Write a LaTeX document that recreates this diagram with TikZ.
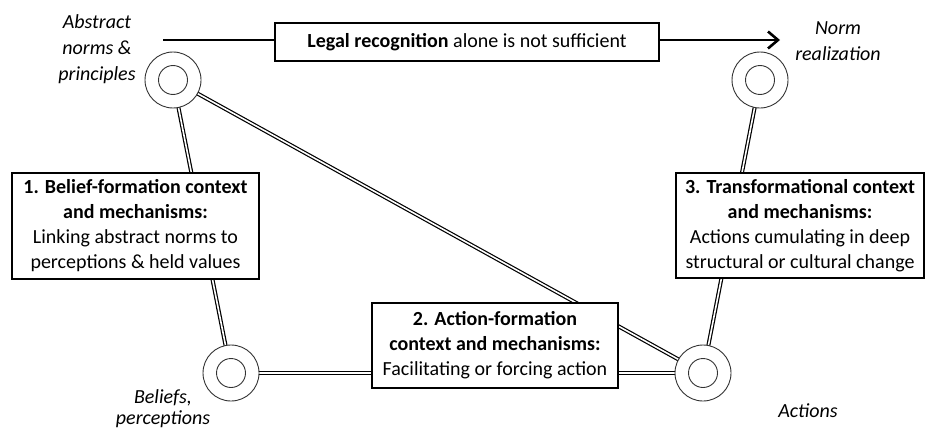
\documentclass[tikz,border=0pt]{standalone}
\usepackage{fontspec}
\setmainfont{Carlito}
\usetikzlibrary{arrows.meta,positioning}

\begin{document}
\begin{tikzpicture}[x=1pt,y=-1pt,font=\fontsize{20}{25}\selectfont,
        ring/.style={circle,draw=black!80,fill=white,line width=0.9pt,minimum size=56pt,inner sep=0pt},
        hole/.style={circle,draw=black!80,line width=0.9pt,minimum size=29pt,inner sep=0pt},
        link/.style={draw=black,line width=1.2pt,double=white,double distance=1.6pt},
        box/.style={rectangle,draw=black,fill=white,line width=1.3pt,align=center,inner sep=2pt},
        lbl/.style={align=center,inner sep=1pt,font=\fontsize{20}{26}\selectfont\itshape}]
        \useasboundingbox (0,0) rectangle (928,436);
        % corner points
        \coordinate (pabs) at (173,80);
        \coordinate (preal) at (760,80);
        \coordinate (pbel) at (231,373);
        \coordinate (pact) at (703,373);
        % links between the corners
        \draw[link] (pabs)--(pbel);
        \draw[link] (pabs)--(pact);
        \draw[link] (preal)--(pact);
        \draw[link] (pbel)--(pact);
        % top arrow
        \coordinate (arrS) at (163,40);
        \coordinate (arrE) at (780,40);
        \draw[-{Straight Barb[length=10pt,width=17pt,line width=2.6pt]},line width=2.8pt] (arrS)--(arrE);
        \node[box,minimum width=384pt,minimum height=38pt] (legal) at (467,42)
            {\textbf{Legal recognition} alone is not sufficient};
        % rings
        \foreach \n in {abs,real,bel,act}{
          \node[ring] (\n) at (p\n) {};
          \node[hole] at (p\n) {};
        }
        % context boxes
        \node[box,minimum width=247pt,minimum height=106pt] (bf) at (135.5,226)
            {\textbf{1. Belief-formation context}\\\textbf{and mechanisms:}\\Linking abstract norms to\\perceptions \& held values};
        \node[box,minimum width=246pt,minimum height=85pt] (af) at (495,345.5)
            {\textbf{2. Action-formation}\\\textbf{context and mechanisms:}\\Facilitating or forcing action};
        \node[box,minimum width=248pt,minimum height=105pt] (tf) at (800,225.5)
            {\textbf{3. Transformational context}\\\textbf{and mechanisms:}\\Actions cumulating in deep\\structural or cultural change};
        % corner labels
        \node[lbl] (labs) at (97,49) {Abstract\\norms \&\\principles};
        \node[lbl] (lreal) at (838,41) {Norm\\realization};
        \node[lbl,font=\fontsize{20}{21}\selectfont\itshape] (lbel) at (163,409) {Beliefs,\\perceptions};
        \node[lbl] (lact) at (808,411) {Actions};
      \end{tikzpicture}
\end{document}
